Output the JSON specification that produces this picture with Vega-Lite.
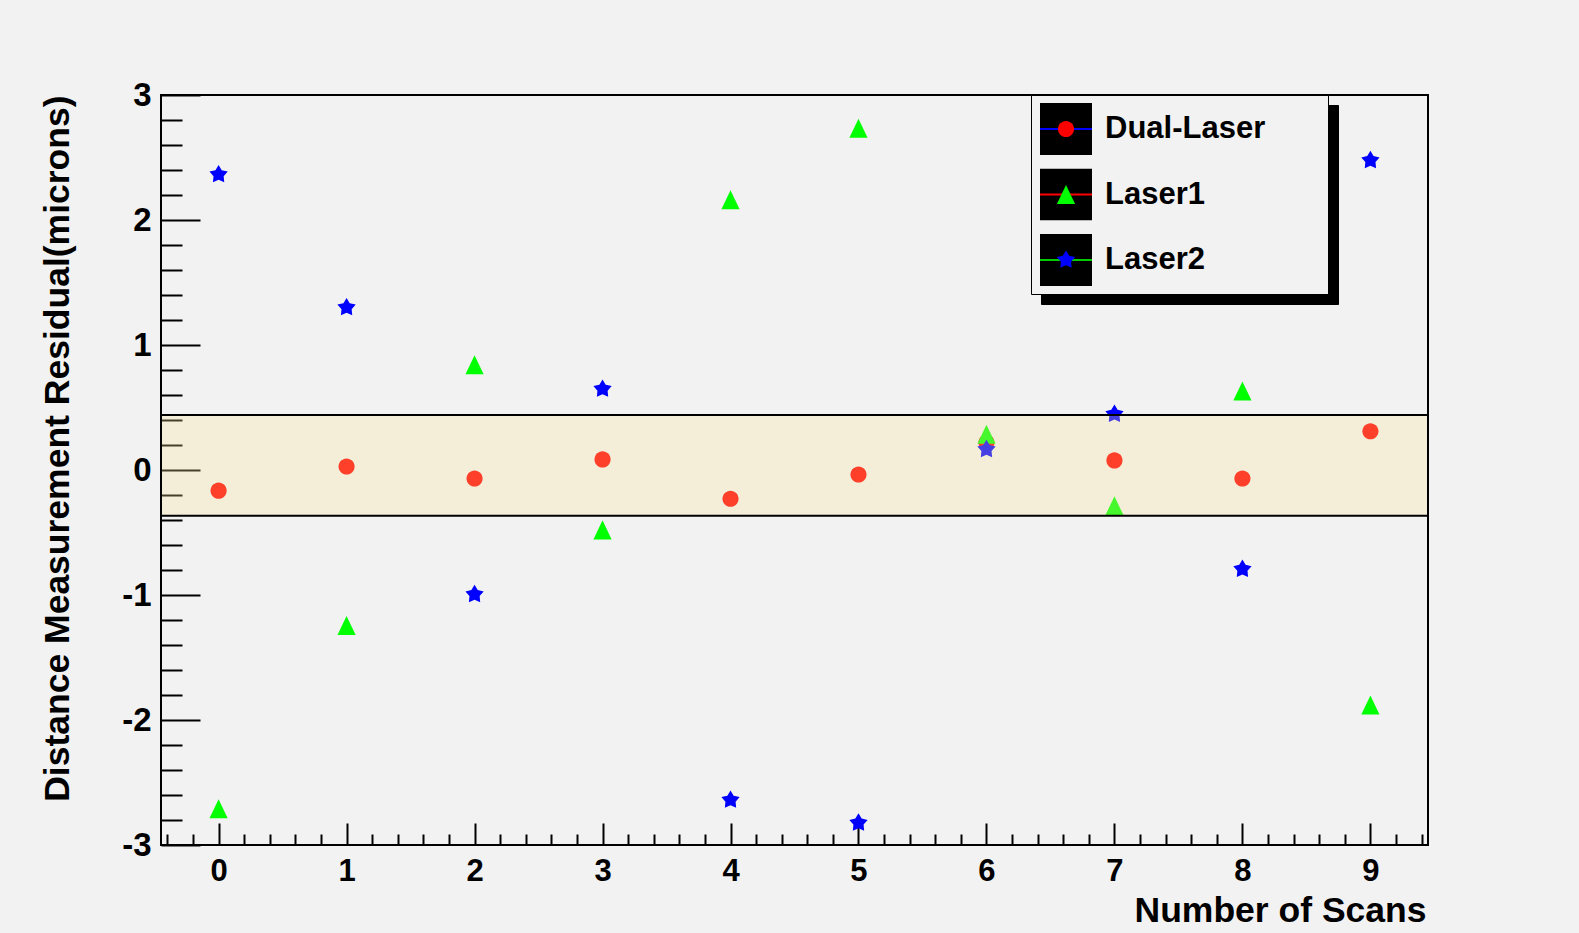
{
  "$schema": "https://vega.github.io/schema/vega-lite/v6.json",
  "width": 1267,
  "height": 750,
  "autosize": {"type": "none"},
  "padding": {"left": 161, "top": 95, "right": 151, "bottom": 88},
  "background": "#f2f2f2",
  "config": {"view": {"stroke": "#000000", "strokeWidth": 2}, "font": "Liberation Sans"},
  "datasets": {
    "pts": [
      {"scan": 0, "value": -0.165, "series": "Dual-Laser", "ln": "Dual-Laser", "bx": "Dual-Laser", "sh": "Dual-Laser"},
      {"scan": 1, "value": 0.028, "series": "Dual-Laser", "ln": "Dual-Laser", "bx": "Dual-Laser", "sh": "Dual-Laser"},
      {"scan": 2, "value": -0.068, "series": "Dual-Laser", "ln": "Dual-Laser", "bx": "Dual-Laser", "sh": "Dual-Laser"},
      {"scan": 3, "value": 0.085, "series": "Dual-Laser", "ln": "Dual-Laser", "bx": "Dual-Laser", "sh": "Dual-Laser"},
      {"scan": 4, "value": -0.23, "series": "Dual-Laser", "ln": "Dual-Laser", "bx": "Dual-Laser", "sh": "Dual-Laser"},
      {"scan": 5, "value": -0.036, "series": "Dual-Laser", "ln": "Dual-Laser", "bx": "Dual-Laser", "sh": "Dual-Laser"},
      {"scan": 6, "value": 0.22, "series": "Dual-Laser", "ln": "Dual-Laser", "bx": "Dual-Laser", "sh": "Dual-Laser"},
      {"scan": 7, "value": 0.077, "series": "Dual-Laser", "ln": "Dual-Laser", "bx": "Dual-Laser", "sh": "Dual-Laser"},
      {"scan": 8, "value": -0.068, "series": "Dual-Laser", "ln": "Dual-Laser", "bx": "Dual-Laser", "sh": "Dual-Laser"},
      {"scan": 9, "value": 0.31, "series": "Dual-Laser", "ln": "Dual-Laser", "bx": "Dual-Laser", "sh": "Dual-Laser"},
      {"scan": 0, "value": -2.71, "series": "Laser1", "ln": "Laser1", "bx": "Laser1", "sh": "Laser1"},
      {"scan": 1, "value": -1.244, "series": "Laser1", "ln": "Laser1", "bx": "Laser1", "sh": "Laser1"},
      {"scan": 2, "value": 0.842, "series": "Laser1", "ln": "Laser1", "bx": "Laser1", "sh": "Laser1"},
      {"scan": 3, "value": -0.479, "series": "Laser1", "ln": "Laser1", "bx": "Laser1", "sh": "Laser1"},
      {"scan": 4, "value": 2.162, "series": "Laser1", "ln": "Laser1", "bx": "Laser1", "sh": "Laser1"},
      {"scan": 5, "value": 2.734, "series": "Laser1", "ln": "Laser1", "bx": "Laser1", "sh": "Laser1"},
      {"scan": 6, "value": 0.286, "series": "Laser1", "ln": "Laser1", "bx": "Laser1", "sh": "Laser1"},
      {"scan": 7, "value": -0.286, "series": "Laser1", "ln": "Laser1", "bx": "Laser1", "sh": "Laser1"},
      {"scan": 8, "value": 0.632, "series": "Laser1", "ln": "Laser1", "bx": "Laser1", "sh": "Laser1"},
      {"scan": 9, "value": -1.88, "series": "Laser1", "ln": "Laser1", "bx": "Laser1", "sh": "Laser1"},
      {"scan": 0, "value": 2.364, "series": "Laser2", "ln": "Laser2", "bx": "Laser2", "sh": "Laser2"},
      {"scan": 1, "value": 1.3, "series": "Laser2", "ln": "Laser2", "bx": "Laser2", "sh": "Laser2"},
      {"scan": 2, "value": -0.995, "series": "Laser2", "ln": "Laser2", "bx": "Laser2", "sh": "Laser2"},
      {"scan": 3, "value": 0.648, "series": "Laser2", "ln": "Laser2", "bx": "Laser2", "sh": "Laser2"},
      {"scan": 4, "value": -2.64, "series": "Laser2", "ln": "Laser2", "bx": "Laser2", "sh": "Laser2"},
      {"scan": 5, "value": -2.823, "series": "Laser2", "ln": "Laser2", "bx": "Laser2", "sh": "Laser2"},
      {"scan": 6, "value": 0.165, "series": "Laser2", "ln": "Laser2", "bx": "Laser2", "sh": "Laser2"},
      {"scan": 7, "value": 0.447, "series": "Laser2", "ln": "Laser2", "bx": "Laser2", "sh": "Laser2"},
      {"scan": 8, "value": -0.793, "series": "Laser2", "ln": "Laser2", "bx": "Laser2", "sh": "Laser2"},
      {"scan": 9, "value": 2.477, "series": "Laser2", "ln": "Laser2", "bx": "Laser2", "sh": "Laser2"}
    ],
    "band": [{"x0": -0.45, "x1": 9.45, "lo": -0.365, "hi": 0.44}]
  },
  "resolve": {"axis": {"x": "independent", "y": "independent"}},
  "layer": [
    {
      "data": {"name": "pts"},
      "mark": {"type": "point", "filled": true, "strokeWidth": 0, "size": 2704, "opacity": 1},
      "encoding": {
        "x": {
          "field": "scan", "type": "quantitative",
          "scale": {"domain": [-0.45, 9.45], "nice": false, "zero": false},
          "axis": {
            "orient": "bottom", "values": [0, 1, 2, 3, 4, 5, 6, 7, 8, 9],
            "tickSize": -22, "tickWidth": 2, "tickColor": "#000000",
            "domain": false, "grid": false,
            "labelFont": "Liberation Sans", "labelFontWeight": "bold", "labelFontSize": 31, "labelColor": "#000000",
            "labelBaseline": "alphabetic", "labelAlign": "center", "labelPadding": 57,
            "labelExpr": "'' + datum.value", "labelFlush": false, "labelOverlap": false,
            "title": "Number of Scans", "titleFont": "Liberation Sans", "titleFontWeight": "bold",
            "titleFontSize": 35.5, "titleColor": "#000000", "titleAlign": "right", "titleBaseline": "alphabetic",
            "titleX": 1265, "titleY": 76
          }
        },
        "y": {
          "field": "value", "type": "quantitative",
          "scale": {"domain": [-3, 3], "nice": false, "zero": false},
          "axis": {
            "orient": "left", "values": [-3, -2, -1, 0, 1, 2, 3],
            "tickSize": -39, "tickWidth": 2, "tickColor": "#000000",
            "domain": false, "grid": false,
            "labelFont": "Liberation Sans", "labelFontWeight": "bold", "labelFontSize": 33, "labelColor": "#000000",
            "labelBaseline": "middle", "labelAlign": "right", "labelPadding": 49,
            "labelExpr": "'' + datum.value", "labelFlush": false, "labelOverlap": false,
            "title": "Distance Measurement Residual(microns)", "titleFont": "Liberation Sans", "titleFontWeight": "bold",
            "titleFontSize": 35.5, "titleColor": "#000000", "titleAngle": 270, "titleAlign": "right", "titleBaseline": "alphabetic",
            "titleX": -93, "titleY": 0
          }
        },
        "color": {
          "field": "series", "type": "nominal",
          "scale": {"range": ["#ff0000", "#00ff00", "#0000ff"]},
          "legend": {
            "orient": "none", "legendX": 870, "legendY": 0, "direction": "vertical", "columns": 1, "title": null,
            "padding": 8, "rowPadding": 13.5, "symbolSize": 2704, "symbolStrokeWidth": 2, "clipHeight": 52,
            "symbolStrokeColor": "transparent",
            "labelFont": "Liberation Sans", "labelFontWeight": "bold", "labelFontSize": 31, "labelColor": "#000000",
            "labelOffset": 12, "labelLimit": 400, "labelBaseline": "middle", "zindex": 4
          }
        },
        "shape": {
          "field": "series", "type": "nominal",
          "scale": {"range": [
            "M-1,-1M1,1M-0.31,0A0.31,0.31 0 1,0 0.31,0A0.31,0.31 0 1,0 -0.31,0Z",
            "M-1,-1M1,1M0,-0.37L0.35,0.37L-0.35,0.37Z",
            "M-1,-1M1,1M0,-0.37L0.121,-0.1665L0.3519,-0.1143L0.1956,0.0635L0.2175,0.2993L0,0.205L-0.2175,0.2993L-0.1956,0.0635L-0.3519,-0.1143L-0.121,-0.1665Z"
          ]},
          "legend": {
            "orient": "none", "legendX": 870, "legendY": 0, "direction": "vertical", "columns": 1, "title": null,
            "padding": 8, "rowPadding": 13.5, "symbolSize": 2704, "symbolStrokeWidth": 2, "clipHeight": 52,
            "symbolStrokeColor": "transparent",
            "labelFont": "Liberation Sans", "labelFontWeight": "bold", "labelFontSize": 31, "labelColor": "#000000",
            "labelOffset": 12, "labelLimit": 400, "labelBaseline": "middle", "zindex": 4
          }
        },
        "stroke": {
          "field": "ln", "type": "nominal",
          "scale": {"range": ["#0000ff", "#ff0000", "#00cc00"]},
          "legend": {
            "orient": "none", "legendX": 870, "legendY": 0, "direction": "vertical", "columns": 1, "title": null,
            "padding": 8, "rowPadding": 13.5, "symbolSize": 2704, "symbolStrokeWidth": 2, "clipHeight": 52,
            "symbolType": "M-1,-1M1,1M-1,0L1,0", "symbolFillColor": "transparent",
            "labelFont": "Liberation Sans", "labelFontWeight": "bold", "labelFontSize": 31,
            "labelOffset": 12, "labelLimit": 400, "labelOpacity": 0, "zindex": 3
          }
        },
        "strokeDash": {
          "field": "bx", "type": "nominal",
          "legend": {
            "orient": "none", "legendX": 870, "legendY": 0, "direction": "vertical", "columns": 1, "title": null,
            "padding": 8, "rowPadding": 13.5, "symbolSize": 2704, "symbolStrokeWidth": 2, "clipHeight": 52,
            "symbolType": "square", "symbolFillColor": "#000000", "symbolStrokeColor": "transparent",
            "fillColor": "#f2f2f2", "strokeColor": "#000000",
            "labelFont": "Liberation Sans", "labelFontWeight": "bold", "labelFontSize": 31,
            "labelOffset": 66, "labelLimit": 400, "labelOpacity": 0, "zindex": 2
          }
        },
        "size": {
          "field": "sh", "type": "ordinal",
          "scale": {"range": [2704, 2704]},
          "legend": {
            "orient": "none", "legendX": 880, "legendY": 10, "direction": "vertical", "columns": 1, "title": null,
            "padding": 8, "rowPadding": 13.5, "symbolStrokeWidth": 2, "clipHeight": 52,
            "symbolType": "square", "symbolFillColor": "#000000", "symbolStrokeColor": "transparent",
            "fillColor": "#000000", "strokeColor": "#000000",
            "labelFont": "Liberation Sans", "labelFontWeight": "bold", "labelFontSize": 31,
            "labelOffset": 66, "labelLimit": 400, "labelOpacity": 0, "symbolOpacity": 0, "zindex": 1
          }
        }
      }
    },
    {
      "data": {"name": "band"},
      "mark": {"type": "rect", "fill": "#fde79b", "fillOpacity": 0.28, "stroke": "#000000", "strokeWidth": 2},
      "encoding": {
        "x": {
          "field": "x0", "type": "quantitative",
          "scale": {"domain": [-0.45, 9.45], "nice": false, "zero": false},
          "axis": {
            "orient": "bottom",
            "values": [-0.4, -0.2, 0.2, 0.4, 0.6, 0.8, 1.2, 1.4, 1.6, 1.8, 2.2, 2.4, 2.6, 2.8, 3.2, 3.4, 3.6, 3.8, 4.2, 4.4, 4.6, 4.8, 5.2, 5.4, 5.6, 5.8, 6.2, 6.4, 6.6, 6.8, 7.2, 7.4, 7.6, 7.8, 8.2, 8.4, 8.6, 8.8, 9.2, 9.4],
            "tickSize": -11, "tickWidth": 2, "tickColor": "#000000",
            "labels": false, "domain": false, "grid": false, "title": null
          }
        },
        "x2": {"field": "x1"},
        "y": {
          "field": "lo", "type": "quantitative",
          "scale": {"domain": [-3, 3], "nice": false, "zero": false},
          "axis": {
            "orient": "left",
            "values": [-2.8, -2.6, -2.4, -2.2, -1.8, -1.6, -1.4, -1.2, -0.8, -0.6, -0.4, -0.2, 0.2, 0.4, 0.6, 0.8, 1.2, 1.4, 1.6, 1.8, 2.2, 2.4, 2.6, 2.8],
            "tickSize": -21, "tickWidth": 2, "tickColor": "#000000",
            "labels": false, "domain": false, "grid": false, "title": null
          }
        },
        "y2": {"field": "hi"}
      }
    }
  ]
}
